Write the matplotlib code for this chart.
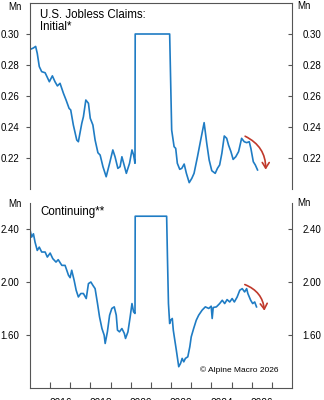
import matplotlib
matplotlib.use('Agg')
import matplotlib.pyplot as plt
from matplotlib.patches import FancyArrowPatch

plt.rcParams['font.family'] = ['Liberation Sans', 'DejaVu Sans']

# initial claims (Mn), flat part is where the chart clips at 0.30
initial_year = [2015.00, 2015.17, 2015.28, 2015.36, 2015.46, 2015.58, 2015.75, 2015.96,
                2016.11, 2016.24, 2016.36, 2016.49, 2016.66, 2016.79, 2016.94, 2017.02,
                2017.15, 2017.32, 2017.40, 2017.57, 2017.65, 2017.77, 2017.90, 2017.99,
                2018.12, 2018.23, 2018.37, 2018.48, 2018.62, 2018.78, 2018.95, 2019.11,
                2019.22, 2019.36, 2019.47, 2019.56, 2019.67, 2019.78, 2019.94, 2020.06,
                2020.14, 2020.21, 2020.22, 2021.93, 2022.03, 2022.15, 2022.23, 2022.31,
                2022.43, 2022.53, 2022.65, 2022.76, 2022.90, 2023.03, 2023.14, 2023.31,
                2023.47, 2023.64, 2023.77, 2023.89, 2024.02, 2024.19, 2024.30, 2024.41,
                2024.52, 2024.64, 2024.76, 2024.85, 2024.97, 2025.08, 2025.21, 2025.35,
                2025.50, 2025.63, 2025.75, 2025.88, 2025.96, 2026.08, 2026.18, 2026.29]
initial_value = [0.290, 0.291, 0.292, 0.2875, 0.279, 0.2757, 0.275, 0.2692,
                 0.273, 0.2692, 0.2665, 0.2682, 0.2617, 0.2574, 0.252, 0.251,
                 0.2413, 0.2316, 0.2305, 0.2424, 0.2466, 0.2574, 0.2553, 0.2456,
                 0.2413, 0.2316, 0.2234, 0.2219, 0.2144, 0.2079, 0.2166, 0.2252,
                 0.2208, 0.2133, 0.2144, 0.2208, 0.2155, 0.2101, 0.2166, 0.2252,
                 0.2219, 0.2166, 0.300, 0.300, 0.238, 0.2273, 0.2262, 0.2166,
                 0.2127, 0.2133, 0.2161, 0.2101, 0.2041, 0.2069, 0.2101, 0.2208,
                 0.2316, 0.2428, 0.2295, 0.2187, 0.2118, 0.2101, 0.2133, 0.2155,
                 0.2230, 0.2342, 0.2327, 0.2284, 0.2241, 0.2191, 0.2208, 0.2241,
                 0.2327, 0.2305, 0.2299, 0.2305, 0.2262, 0.2176, 0.2155, 0.2123]

# continuing claims (Mn), clipped at 2.50
cont_year = [2015.00, 2015.08, 2015.17, 2015.25, 2015.36, 2015.46, 2015.58, 2015.75,
             2015.86, 2016.00, 2016.13, 2016.29, 2016.40, 2016.58, 2016.74, 2016.91,
             2016.99, 2017.07, 2017.19, 2017.29, 2017.40, 2017.52, 2017.65, 2017.79,
             2017.90, 2018.02, 2018.12, 2018.23, 2018.35, 2018.45, 2018.57, 2018.68,
             2018.73, 2018.84, 2018.95, 2019.06, 2019.18, 2019.28, 2019.34, 2019.44,
             2019.56, 2019.68, 2019.74, 2019.86, 2019.97, 2020.06, 2020.14, 2020.21,
             2020.22, 2021.78, 2021.82, 2021.87, 2021.93, 2021.98, 2022.06, 2022.11,
             2022.16, 2022.26, 2022.38, 2022.47, 2022.55, 2022.63, 2022.71, 2022.83,
             2022.93, 2023.00, 2023.12, 2023.25, 2023.37, 2023.54, 2023.70, 2023.87,
             2023.99, 2024.04, 2024.09, 2024.25, 2024.41, 2024.54, 2024.66, 2024.78,
             2024.91, 2025.03, 2025.14, 2025.28, 2025.41, 2025.53, 2025.65, 2025.75,
             2025.81, 2025.95, 2026.05, 2026.15, 2026.24]
cont_value = [2.398, 2.342, 2.367, 2.304, 2.241, 2.266, 2.229, 2.229,
              2.191, 2.221, 2.179, 2.153, 2.171, 2.128, 2.128, 2.053,
              2.035, 2.091, 2.015, 1.940, 1.889, 1.915, 1.915, 1.877,
              1.990, 2.002, 1.977, 1.952, 1.839, 1.738, 1.650, 1.600,
              1.537, 1.625, 1.751, 1.802, 1.814, 1.751, 1.638, 1.625,
              1.650, 1.613, 1.575, 1.625, 1.738, 1.839, 1.776, 1.764,
              2.500, 2.500, 2.191, 1.839, 1.688, 1.713, 1.726, 1.638,
              1.587, 1.487, 1.361, 1.386, 1.424, 1.398, 1.424, 1.436,
              1.512, 1.587, 1.650, 1.713, 1.751, 1.789, 1.814, 1.802,
              1.819, 1.726, 1.809, 1.814, 1.839, 1.864, 1.839, 1.869,
              1.851, 1.877, 1.851, 1.889, 1.940, 1.952, 1.927, 1.952,
              1.915, 1.864, 1.839, 1.851, 1.814]

year_ticks = list(range(2016, 2028))
year_labels = ['2016', '2018', '2020', '2022', '2024', '2026']

line_color = '#1f7cc4'
arrow_color = '#c0392b'
spine_color = '#555555'

fig = plt.figure(figsize=(3.24, 4.0), dpi=100)
ax1 = fig.add_axes([0.0926, 0.5275, 0.8086, 0.465])
ax2 = fig.add_axes([0.0926, 0.03, 0.8086, 0.4625])

ax1.plot(initial_year, initial_value, color=line_color, lw=1.2)
ax2.plot(cont_year, cont_value, color=line_color, lw=1.2)

ax1.set_ylim(0.20, 0.32)
ax1.set_yticks([0.22, 0.24, 0.26, 0.28, 0.30])
ax2.set_ylim(1.2, 2.6)
ax2.set_yticks([1.60, 2.00, 2.40])

for ax in (ax1, ax2):
    ax.set_xlim(2015, 2028)
    for s in ax.spines.values():
        s.set_color(spine_color)
        s.set_linewidth(0.8)
    ax.tick_params(axis='y', which='both', left=True, right=True, labelleft=True,
                   labelright=True, labelsize=7, color=spine_color, length=3,
                   width=0.8, pad=4.5)
    ax.yaxis.set_major_formatter(plt.FuncFormatter(lambda v, p: f'{v:.2f}'))
    # left ticks stick out, right ticks point in (both point left)
    for t in ax.yaxis.get_major_ticks():
        t.tick1line.set_marker(0)
        t.tick2line.set_marker(0)

ax1.spines['bottom'].set_visible(False)
ax1.set_xticks([])
ax2.spines['top'].set_visible(False)

ax2.set_xticks(year_ticks)
ax2.set_xticklabels([])
ax2.set_xticks([int(y) + 0.5 for y in year_labels], minor=True)
ax2.set_xticklabels(year_labels, minor=True)
ax2.tick_params(axis='x', which='major', direction='in', length=4, width=0.8, color=spine_color)
ax2.tick_params(axis='x', which='minor', length=0, labelsize=7.3, pad=7)

# panel titles and units
ax1.text(0.04, 0.97, 'U.S. Jobless Claims:\nInitial*', transform=ax1.transAxes,
         fontsize=8.3, va='top', ha='left', linespacing=1.1)
ax2.text(0.04, 0.985, 'Continuing**', transform=ax2.transAxes,
         fontsize=8.3, va='top', ha='left')
for ypos in (7, 204):
    fig.text(15 / 324, 1 - ypos / 400, 'Mn', fontsize=7, ha='center', va='center')
    fig.text(304 / 324, 1 - (ypos - 1) / 400, 'Mn', fontsize=7, ha='center', va='center')

ax2.text(0.65, 0.095, '\u00a9 Alpine Macro 2026', transform=ax2.transAxes,
         fontsize=6, ha='left', va='center')

# red arrows for the latest decline
ax1.add_patch(FancyArrowPatch((2025.55, 0.2348), (2026.69, 0.2107),
                              connectionstyle='arc3,rad=-0.35',
                              arrowstyle='->,head_length=4,head_width=2.5',
                              color=arrow_color, lw=1.2))
ax2.add_patch(FancyArrowPatch((2025.53, 1.990), (2026.64, 1.764),
                              connectionstyle='arc3,rad=-0.35',
                              arrowstyle='->,head_length=4,head_width=2.5',
                              color=arrow_color, lw=1.2))

fig.savefig('out.png', dpi=100)
